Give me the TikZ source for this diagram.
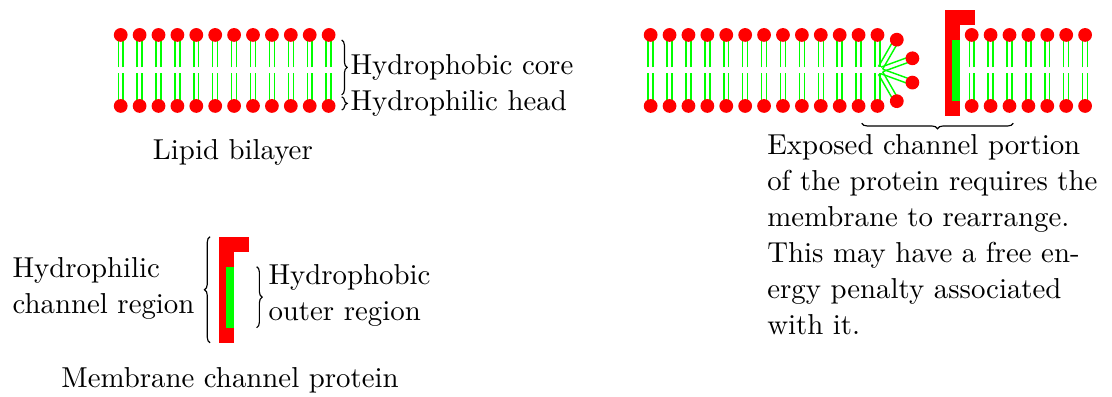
\documentclass[tikz,border=0pt]{standalone}
\usepackage{tikz}
\usetikzlibrary{decorations.pathreplacing}

\tikzset{
  every node/.style={font=\fontsize{10pt}{12.5pt}\selectfont},
  tail/.style={green, line width=0.5pt},
  brace/.style={decorate, decoration={brace, amplitude=1.9pt}},
}

% a whole lipid, centred in the middle of the membrane
\newcommand{\lipid}[1]{%
  \begin{scope}[shift={#1}]
    \draw[tail] (-0.03,0.037) -- (-0.03,0.433) (0.03,0.037) -- (0.03,0.433);
    \draw[tail] (-0.03,-0.037) -- (-0.03,-0.433) (0.03,-0.037) -- (0.03,-0.433);
    \fill[red] (0,0.433) circle (0.084) (0,-0.433) circle (0.084);
  \end{scope}}

% one half of a lipid, turned about the membrane middle
\newcommand{\halflipid}[2]{%
  \begin{scope}[shift={#1}, rotate=#2]
    \draw[tail] (-0.03,0.037) -- (-0.03,0.433) (0.03,0.037) -- (0.03,0.433);
    \fill[red] (0,0.433) circle (0.084);
  \end{scope}}

% channel protein, top left corner at #1
\newcommand{\protein}[1]{%
  \begin{scope}[shift={#1}]
    \fill[red] (0,0) rectangle (0.183,-1.293);
    \fill[red] (0,0) rectangle (0.366,-0.183);
    \fill[green] (0.083,-0.366) rectangle (0.183,-1.11);
  \end{scope}}

\begin{document}
\begin{tikzpicture}
\useasboundingbox (0,0) rectangle (13.561,4.841);

% lipid bilayer
\foreach \i in {0,...,11}
  \lipid{(1.472+\i*0.2305,3.982)};

\draw[brace] (4.167,4.354) -- (4.167,3.683);
\node[anchor=west, inner sep=0] (core) at (4.268,4.018) {Hydrophobic core};
\draw[brace] (4.167,3.659) -- (4.167,3.5);
\node[anchor=west, inner sep=0] (head) at (4.268,3.579) {Hydrophilic head};

\node (bilayer) at (2.84,2.976) {Lipid bilayer};

% channel protein on its own
\protein{(2.674,1.954)}

\draw[brace] (2.561,0.661) -- (2.561,1.954);
\node[anchor=east, inner sep=0, align=left] (channel) at (2.378,1.32)
  {Hydrophilic\\channel region};
\draw[brace] (3.13,1.589) -- (3.13,0.845);
\node[anchor=west, inner sep=0, align=left] (outer) at (3.268,1.238)
  {Hydrophobic\\outer region};

\node (protein) at (2.805,0.207) {Membrane channel protein};

% right one: protein put into the membrane
\foreach \i in {0,...,12}
  \lipid{(7.935+\i*0.2305,3.982)};
\foreach \a in {-30,-70,-110,-150}
  \halflipid{(10.72,3.982)}{\a};

\protein{(11.524,4.720)}

\foreach \i in {0,...,6}
  \lipid{(11.85+\i*0.2305,3.982)};

\draw[brace] (12.357,3.338) -- (10.509,3.338);
\node[anchor=north west, inner sep=0, align=left] (penalty) at (9.35,3.207)
  {Exposed channel portion\\of the protein requires the\\membrane to rearrange.\\This may have a free en-\\ergy penalty associated\\with it.};

\end{tikzpicture}
\end{document}
